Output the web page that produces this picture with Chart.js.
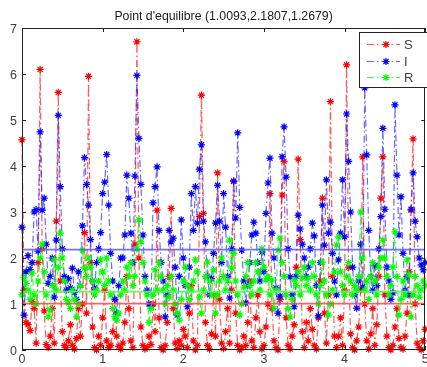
<!DOCTYPE html>
<html><head><meta charset="utf-8">
<script src="https://cdn.jsdelivr.net/npm/chart.js@4/dist/chart.umd.min.js"></script>
<style>html,body{margin:0;padding:0;background:#fff;overflow:hidden;width:427px;height:367px}canvas{display:block}</style>
</head><body>
<canvas id="c" width="430" height="367"></canvas>
<script>
const titleText = "Point d'equilibre (1.0093,2.1807,1.2679)";
const seriesNames = ['S', 'I', 'R'];
const equilibrium = [1.0093, 2.1807, 1.2679];
const xTicks = [0, 1, 2, 3, 4, 5];
const yTicks = [0, 1, 2, 3, 4, 5, 6, 7];
const tStart = 0, tStep = 0.025;

const S = [
4.57,1.3,0.6,0.55,0.42,1.05,0.9,0.15,1.9,6.1,
2.2,0.85,0.12,0.05,0.3,0.9,0.15,2.8,5.6,1.5,
0.4,0.1,0.05,0.2,0.55,0.1,0.02,0.25,0.9,0.3,
1.0,2.55,0.8,5.95,1.9,0.5,0.05,0.0,0.3,0.1,
0.7,1.3,0.2,0.05,0.1,0.4,1.1,0.3,0.08,0.02,
0.15,0.6,1.6,0.9,0.2,0.05,2.3,6.7,2.0,0.5,
0.1,0.02,0.05,0.3,0.12,1.0,0.4,3.04,0.7,0.05,
0.0,0.1,0.6,1.6,3.08,0.9,0.15,0.03,0.2,0.1,
0.45,0.3,0.05,0.8,1.4,0.2,0.0,0.1,2.9,5.54,
2.97,0.6,0.1,0.02,0.35,1.2,0.3,3.85,1.1,0.15,
0.03,0.4,0.9,0.15,1.3,3.67,0.8,0.1,0.0,0.05,
0.3,0.1,0.6,1.5,0.2,0.05,0.7,1.2,0.4,0.02,
0.1,0.5,1.0,3.4,0.9,0.2,0.05,0.0,1.1,3.37,
4.1,0.7,0.1,0.02,0.3,0.55,1.8,4.15,2.4,0.4,
0.05,0.6,0.2,0.9,0.45,0.1,0.02,0.7,1.5,3.3,
0.8,0.15,1.2,5.4,1.6,0.3,0.05,0.3,0.7,0.1,
1.3,6.2,1.8,0.35,0.05,0.0,0.2,0.5,1.3,4.2,
1.0,0.2,0.02,0.35,0.9,0.1,0.55,1.6,3.3,4.2,
1.2,0.3,0.05,0.0,0.1,0.5,0.9,0.25,0.05,0.02,
0.3,0.8,1.7,3.04,4.59,1.0,0.15,0.05,0.0,0.2,
0.45];

const I = [
2.67,0.76,1.7,2.05,1.75,1.9,3.0,3.05,2.15,4.74,
3.04,3.3,2.3,1.45,1.6,2.0,1.15,2.39,5.1,3.55,
2.2,1.6,1.3,1.55,1.35,1.78,1.25,1.1,1.7,1.4,
2.7,4.18,3.6,3.15,2.4,1.5,1.35,1.9,2.2,2.55,
3.4,3.65,4.25,3.15,2.1,1.5,1.1,0.8,1.4,2.0,
2.0,2.5,3.8,3.3,2.54,1.9,3.78,5.97,4.6,3.6,
2.5,1.6,1.3,1.0,0.95,3.2,3.55,3.98,2.6,1.9,
1.5,0.72,1.2,2.6,2.35,2.43,1.8,0.76,1.6,2.83,
2.0,1.4,0.94,1.8,3.4,2.6,3.55,2.76,3.93,4.46,
2.8,2.35,1.6,1.2,1.55,2.1,2.76,3.58,2.8,1.9,
3.4,2.67,1.6,1.13,2.2,3.67,2.87,4.72,3.1,2.17,
1.5,1.02,1.4,1.9,2.5,2.78,2.54,1.9,1.5,2.13,
1.7,2.97,3.63,4.17,2.54,2.0,1.35,0.8,1.17,4.2,
4.85,3.76,2.2,1.59,1.2,0.94,1.6,2.93,2.63,2.3,
2.0,1.6,1.8,2.2,2.76,2.48,1.4,0.74,1.9,3.15,
2.28,3.7,2.54,2.78,2.1,1.5,1.2,1.96,2.54,3.7,
2.46,5.13,4.1,3.0,1.8,1.2,0.91,1.5,2.3,1.37,
5.7,4.24,2.6,1.6,1.3,1.83,1.4,2.2,2.9,4.82,
3.06,1.8,1.5,1.1,1.24,5.33,3.8,2.5,3.33,2.1,
1.3,1.6,1.2,3.06,3.85,2.8,2.46,2.0,1.85,1.74,
1.9];

const R = [
1.2,1.58,1.45,1.3,1.1,1.67,1.2,1.0,1.5,2.0,
2.3,1.7,1.2,0.72,0.87,1.4,1.96,1.3,1.8,2.54,
2.0,1.5,1.1,1.02,0.9,1.3,1.1,0.72,1.0,1.4,
2.17,1.78,1.6,2.0,1.8,1.5,1.2,1.3,1.5,1.96,
1.7,1.4,2.0,1.5,1.2,0.9,0.72,0.65,0.8,1.2,
1.5,1.3,1.8,1.6,1.9,1.4,1.6,2.2,2.83,2.35,
1.9,1.5,1.2,0.6,0.9,1.2,1.74,1.3,1.9,1.6,
1.3,1.0,1.4,1.15,1.6,1.3,1.0,0.8,0.65,1.1,
1.5,1.8,1.4,1.1,1.3,1.5,1.96,1.7,1.15,0.8,
1.3,1.6,1.91,1.5,1.2,1.74,0.8,1.2,1.5,2.0,
1.6,1.3,1.5,2.39,1.78,2.1,1.5,1.2,0.76,1.0,
1.37,1.6,1.9,1.4,1.2,1.5,1.9,1.7,1.3,2.2,
1.8,1.52,1.6,1.2,1.52,0.91,1.3,2.17,2.43,1.9,
1.6,1.2,0.9,0.72,1.1,1.52,1.4,1.7,1.2,1.56,
1.8,1.4,1.56,1.3,1.9,1.6,1.2,1.0,1.4,1.91,
1.5,1.2,0.76,1.0,1.3,1.7,2.28,2.46,1.7,1.4,
1.2,1.6,1.9,1.5,1.2,1.4,1.3,1.6,3.0,2.0,
1.3,1.5,1.1,1.6,1.9,1.5,1.2,1.8,2.0,2.39,
2.0,1.6,1.2,1.4,1.8,2.57,1.6,0.76,1.1,1.5,
1.2,1.96,1.63,0.72,1.2,1.6,1.4,1.15,1.3,1.5,
1.4];

const colors = ['#ff0000', '#0000ff', '#00ff00'];
const lineColors = ['rgba(255,30,30,0.75)', 'rgba(40,40,255,0.7)', 'rgba(30,240,30,0.8)'];
const eqColors = ['rgba(255,70,70,0.85)', 'rgba(90,90,255,0.85)', 'rgba(80,255,80,0.9)'];
const dash = [7, 3, 1.5, 3];
const toXY = arr => arr.map((v, i) => ({ x: tStart + i * tStep, y: v }));
const seriesData = [S, I, R];

const datasets = [];
seriesData.forEach((arr, k) => {
  datasets.push({
    label: seriesNames[k], data: toXY(arr), order: 3 - k,
    borderColor: lineColors[k], borderWidth: 1.2, borderDash: dash,
    pointStyle: 'star', pointRadius: 3.6, pointBorderColor: colors[k],
    pointBackgroundColor: colors[k], pointBorderWidth: 1.2, pointHoverRadius: 3.6,
    tension: 0, clip: false, fill: false
  });
});
equilibrium.forEach((v, k) => {
  datasets.push({
    label: 'eq' + seriesNames[k], data: [{ x: xTicks[0], y: v }, { x: xTicks[xTicks.length - 1], y: v }],
    order: -1, borderColor: eqColors[k], borderWidth: 1.8, pointRadius: 0, fill: false
  });
});

function star(ctx, cx, cy, r) {
  const d = r * 0.7071;
  ctx.beginPath();
  ctx.moveTo(cx - r, cy); ctx.lineTo(cx + r, cy);
  ctx.moveTo(cx, cy - r); ctx.lineTo(cx, cy + r);
  ctx.moveTo(cx - d, cy - d); ctx.lineTo(cx + d, cy + d);
  ctx.moveTo(cx - d, cy + d); ctx.lineTo(cx + d, cy - d);
  ctx.stroke();
}

const decor = {
  id: 'decor',
  afterDraw(chart) {
    const ctx = chart.ctx, a = chart.chartArea, xs = chart.scales.x, ys = chart.scales.y;
    ctx.save();
    ctx.strokeStyle = '#222'; ctx.lineWidth = 1; ctx.setLineDash([]);
    ctx.strokeRect(Math.round(a.left) + 0.5, Math.round(a.top) + 0.5, Math.round(a.right - a.left) - 1, Math.round(a.bottom - a.top) - 1);
    ctx.beginPath();
    xTicks.forEach(t => {
      const px = Math.round(xs.getPixelForValue(t)) + 0.5;
      ctx.moveTo(px, a.bottom); ctx.lineTo(px, a.bottom - 4);
      ctx.moveTo(px, a.top); ctx.lineTo(px, a.top + 4);
    });
    yTicks.forEach(t => {
      const py = Math.round(ys.getPixelForValue(t)) + 0.5;
      ctx.moveTo(a.left, py); ctx.lineTo(a.left + 4, py);
      ctx.moveTo(a.right, py); ctx.lineTo(a.right - 4, py);
    });
    ctx.stroke();
    ctx.fillStyle = '#404040';
    ctx.font = '12.5px "Liberation Sans", Arial, sans-serif';
    ctx.textAlign = 'right'; ctx.textBaseline = 'alphabetic';
    yTicks.forEach(t => ctx.fillText(String(t), a.left - 5, ys.getPixelForValue(t) + 4.5));
    ctx.textAlign = 'center';
    xTicks.forEach(t => ctx.fillText(String(t), xs.getPixelForValue(t), 363));
    ctx.font = '12.3px "Liberation Sans", Arial, sans-serif';
    ctx.fillStyle = '#202020';
    ctx.fillText(titleText, (a.left + a.right) / 2, 20);
    // legend
    const lx = 359, ly = 32, lw = 80, lh = 55;
    ctx.fillStyle = '#fff';
    ctx.fillRect(lx, ly, lw, lh);
    ctx.strokeStyle = '#222';
    ctx.strokeRect(lx + 0.5, ly + 0.5, lw, lh);
    const rows = [43.5, 60.5, 77];
    ctx.font = '13px "Liberation Sans", Arial, sans-serif';
    ctx.textAlign = 'left';
    seriesNames.forEach((n, k) => {
      const y = Math.round(rows[k]) + 0.5;
      ctx.strokeStyle = lineColors[k]; ctx.lineWidth = 1.2; ctx.setLineDash(dash);
      ctx.beginPath(); ctx.moveTo(367, y); ctx.lineTo(400, y); ctx.stroke();
      ctx.setLineDash([]);
      ctx.strokeStyle = colors[k]; ctx.lineWidth = 1.2;
      star(ctx, 386, y, 3.6);
      ctx.fillStyle = '#404040';
      ctx.fillText(n, 404, y + 4.5);
    });
    ctx.restore();
  }
};

new Chart(document.getElementById('c'), {
  type: 'line',
  data: { datasets },
  options: {
    responsive: false, animation: false, devicePixelRatio: 1,
    layout: { padding: { left: 22, top: 28, right: 2, bottom: 17 } },
    scales: {
      x: { type: 'linear', min: xTicks[0], max: xTicks[xTicks.length - 1], display: false },
      y: { type: 'linear', min: yTicks[0], max: yTicks[yTicks.length - 1], display: false }
    },
    plugins: { legend: { display: false }, title: { display: false }, tooltip: { enabled: false } }
  },
  plugins: [decor]
});
</script>
</body></html>
